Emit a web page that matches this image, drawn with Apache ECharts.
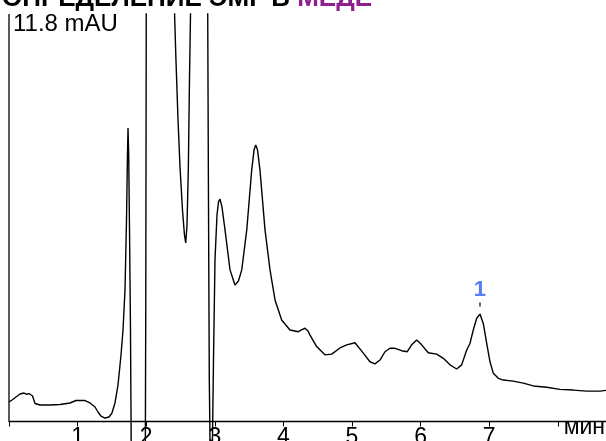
<!DOCTYPE html>
<html>
<head>
<meta charset="utf-8">
<script src="https://cdn.jsdelivr.net/npm/echarts@6/dist/echarts.min.js"></script>
<style>
html,body{margin:0;padding:0;background:#fff;}
#chart{width:606px;height:441px;}
</style>
</head>
<body>
<div id="chart"></div>
<script>
// Retention time, min
var times = [
  0.000, 0.044, 0.102, 0.160, 0.219, 0.262, 0.292, 0.321, 0.343, 0.379,
  0.452, 0.598, 0.743, 0.889, 0.977, 1.108, 1.181, 1.254, 1.297, 1.341,
  1.399, 1.458, 1.501, 1.545, 1.589, 1.633, 1.662, 1.691, 1.713, 1.727,
  1.735, 1.745, 1.757, 1.771, 1.781, 1.793, 1.880, 1.968, 1.987, 1.994,
  2.001, 2.012, 2.201, 2.398, 2.413, 2.434, 2.464, 2.493, 2.529, 2.558,
  2.576, 2.595, 2.614, 2.631, 2.646, 2.660, 2.784, 2.879, 2.897, 2.908,
  2.920, 2.930, 2.937, 2.949, 2.959, 2.966, 2.981, 3.003, 3.032, 3.054,
  3.076, 3.105, 3.149, 3.222, 3.294, 3.345, 3.393, 3.466, 3.538, 3.572,
  3.597, 3.623, 3.659, 3.732, 3.805, 3.878, 3.975, 4.096, 4.217, 4.271,
  4.315, 4.359, 4.388, 4.485, 4.606, 4.704, 4.825, 4.923, 5.044, 5.165,
  5.262, 5.335, 5.408, 5.481, 5.554, 5.627, 5.724, 5.806, 5.870, 5.943,
  6.016, 6.112, 6.235, 6.331, 6.429, 6.526, 6.599, 6.672, 6.720, 6.768,
  6.818, 6.866, 6.914, 6.964, 7.012, 7.060, 7.133, 7.206, 7.351, 7.497,
  7.643, 7.838, 8.032, 8.226, 8.421, 8.615, 8.703
];
// Absorbance, mAU
var absorbance = [
  0.565, 0.623, 0.710, 0.796, 0.825, 0.782, 0.811, 0.854, 0.738, 0.521,
  0.478, 0.478, 0.492, 0.536, 0.608, 0.608, 0.536, 0.420, 0.275, 0.159,
  0.101, 0.130, 0.246, 0.536, 1.057, 1.926, 2.650, 3.808, 5.836, 7.718,
  8.500, 7.718, 5.546, 2.650, -0.536, -2.853, -4.010, -3.430, -1.110, 3.520,
  11.92, 18.10, 29.60, 15.10, 11.85, 10.47, 8.73, 7.37, 6.12, 5.40,
  5.17, 5.69, 7.28, 9.89, 11.80, 15.10, 26.70, 15.10, 11.80, 6.41,
  1.20, -0.54, -2.85, -3.43, -2.85, -0.56, 1.78, 4.68, 5.98, 6.36,
  6.44, 6.21, 5.55, 4.39, 3.95, 4.07, 4.39, 5.55, 7.28, 7.86,
  8.01, 7.86, 7.28, 5.55, 4.39, 3.52, 2.94, 2.65, 2.60, 2.66,
  2.70, 2.62, 2.50, 2.17, 1.93, 1.95, 2.13, 2.22, 2.28, 1.98,
  1.73, 1.67, 1.78, 2.02, 2.12, 2.12, 2.05, 2.02, 2.22, 2.36,
  2.22, 1.99, 1.95, 1.83, 1.64, 1.52, 1.64, 2.07, 2.26, 2.65,
  2.99, 3.11, 2.84, 2.26, 1.73, 1.40, 1.25, 1.20, 1.17, 1.11,
  1.03, 0.99, 0.93, 0.91, 0.88, 0.88, 0.90
];
var xTickLabels = ['1', '2', '3', '4', '5', '6', '7'];
var peakTimes = [6.866];
var peakHeights = [3.11];
var peakLabels = ['1'];
var yFullScale = 11.8;
var yUnitLabel = '11.8 mAU';
var xUnitLabel = 'мин';
var titleMain = 'ОПРЕДЕЛЕНИЕ ЭМГ В ';
var titleAccent = 'МЕДЕ';

var FONT = '"Liberation Sans", Arial, Helvetica, sans-serif';
var chart = echarts.init(document.getElementById('chart'), null, {renderer: 'canvas'});

var traceData = times.map(function (t, i) { return [t, absorbance[i]]; });
var peakData = peakTimes.map(function (t, i) { return {value: [t, peakHeights[i]], name: peakLabels[i]}; });

chart.setOption({
  animation: false,
  backgroundColor: '#ffffff',
  title: [
    {
      text: '{a|' + titleMain + '}{b|' + titleAccent + '}',
      left: 2, top: -14, padding: 0,
      textStyle: {
        rich: {
          a: {fontFamily: FONT, fontSize: 26, fontWeight: 'bold', color: '#000000'},
          b: {fontFamily: FONT, fontSize: 26, fontWeight: 'bold', color: '#8e1f8e'}
        }
      }
    },
    {
      text: yUnitLabel,
      left: 13, top: 12, padding: 0,
      textStyle: {fontFamily: FONT, fontSize: 24, fontWeight: 'normal', color: '#000000'}
    }
  ],
  grid: {left: 9, right: 0, top: 14, height: 459.3, containLabel: false, outerBoundsMode: 'none'},
  xAxis: {
    type: 'value',
    position: 'bottom',
    offset: -51.8,
    min: 0, max: 8.703, interval: 1,
    axisLine: {show: true, onZero: false, lineStyle: {color: '#000', width: 1.3}},
    axisTick: {show: true, length: 5, lineStyle: {color: '#000', width: 1}},
    splitLine: {show: false},
    axisLabel: {
      margin: 5,
      fontFamily: FONT, fontSize: 23, color: '#000',
      hideOverlap: false,
      formatter: function (v) {
        var i = Math.round(v) - 1;
        return (i >= 0 && i < xTickLabels.length && Math.abs(v - Math.round(v)) < 1e-6) ? xTickLabels[i] : '';
      }
    },
    name: xUnitLabel,
    nameLocation: 'end',
    nameGap: -1,
    nameTextStyle: {fontFamily: FONT, fontSize: 23, color: '#000', align: 'right', verticalAlign: 'top', lineHeight: 12}
  },
  yAxis: {
    type: 'value',
    min: -1.5, max: yFullScale,
    show: false
  },
  series: [
    {
      type: 'line',
      data: traceData,
      showSymbol: false,
      symbol: 'none',
      smooth: false,
      clip: true,
      silent: true,
      lineStyle: {color: '#000', width: 1.4}
    },
    {
      type: 'line',
      data: [[0, 0], [0, yFullScale]],
      symbol: 'none',
      clip: false,
      silent: true,
      lineStyle: {color: '#000', width: 1.3}
    },
    {
      type: 'scatter',
      data: peakData,
      symbol: 'rect',
      symbolSize: [1.5, 4],
      symbolOffset: [0, -9.5],
      itemStyle: {color: '#000'},
      silent: true,
      label: {
        show: true,
        position: 'top',
        distance: 2,
        formatter: function (p) { return p.name; },
        fontFamily: FONT, fontSize: 22, fontWeight: 'bold', color: '#2a5ef2'
      }
    }
  ]
});
</script>
</body>
</html>
